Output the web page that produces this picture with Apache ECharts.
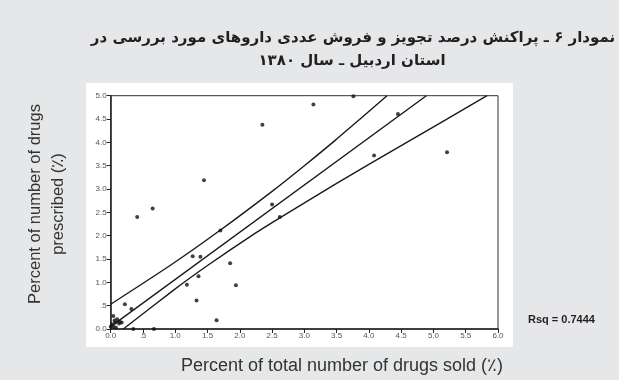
<!DOCTYPE html>
<html>
<head>
<meta charset="utf-8">
<script src="https://cdn.jsdelivr.net/npm/echarts@6/dist/echarts.min.js"></script>
<style>
  html, body { margin: 0; padding: 0; background: #e6e7e8; }
  #chart { width: 619px; height: 380px; }
</style>
</head>
<body>
<div id="chart"></div>
<script>
// Percent of total number of drugs sold (x) vs percent of number prescribed (y)
const soldPct = [5.21, 3.14, 3.76, 4.45, 4.08, 2.35, 2.50, 2.62, 1.445, 0.41, 0.65, 1.70,
  1.27, 1.39, 1.85, 1.36, 1.18, 1.94, 1.33, 1.64, 0.22, 0.32, 0.04, 0.10, 0.14, 0.07,
  0.17, 0.02, 0.13, 0.04, 0.00, 0.35, 0.67, 0.08, 0.06];
const prescribedPct = [3.79, 4.81, 4.99, 4.61, 3.72, 4.38, 2.67, 2.40, 3.19, 2.40, 2.58, 2.11,
  1.56, 1.55, 1.41, 1.13, 0.95, 0.94, 0.61, 0.19, 0.53, 0.43, 0.28, 0.21, 0.15, 0.14,
  0.14, 0.10, 0.12, 0.05, 0.05, 0.00, 0.00, 0.03, 0.18];

// Fitted line and 95% confidence band
const fitX = [0.00, 4.89];
const fitY = [0.05, 5.00];
const upperX = [0.00, 0.92, 1.69, 2.50, 3.00, 3.50, 4.28];
const upperY = [0.53, 1.36, 2.11, 2.95, 3.50, 4.07, 5.00];
const lowerX = [0.195, 1.00, 1.50, 2.16, 2.62, 3.50, 4.50, 5.83];
const lowerY = [0.00, 0.86, 1.36, 1.98, 2.38, 3.12, 3.93, 5.00];

const xTicks = [0, 0.5, 1, 1.5, 2, 2.5, 3, 3.5, 4, 4.5, 5, 5.5, 6];
const yTicks = [0, 0.5, 1, 1.5, 2, 2.5, 3, 3.5, 4, 4.5, 5];

const titleLines = [
  'نمودار ۶ ـ پراکنش درصد تجویز و فروش عددی داروهای مورد بررسی در',
  'استان اردبیل ـ سال ۱۳۸۰'
];
const xName = 'Percent of total number of drugs sold (٪)';
const yNameLines = ['Percent of number of drugs', 'prescribed (٪)'];
const rsqText = 'Rsq = 0.7444';

const zip = (xs, ys) => xs.map((x, i) => [x, ys[i]]);
const tickLabel = v => (v === 0.5 ? '.5' : v.toFixed(1));

const chart = echarts.init(document.getElementById('chart'), null, { renderer: 'canvas' });

const lineSeries = (xs, ys) => ({
  type: 'line',
  data: zip(xs, ys),
  smooth: xs.length > 2 ? 0.2 : false,
  symbol: 'none',
  lineStyle: { color: '#1a1a1a', width: 1.4 },
  silent: true,
  z: 3
});

const titleStyle = { fontFamily: 'DejaVu Sans', fontWeight: 'bold', fontSize: 15, color: '#231f20' };

chart.setOption({
  backgroundColor: '#e6e7e8',
  animation: false,
  title: [
    { text: titleLines[0], left: 348, top: 26, textAlign: 'center', textStyle: titleStyle },
    { text: titleLines[1], left: 347, top: 49, textAlign: 'center', textStyle: titleStyle }
  ],
  graphic: [
    {
      type: 'rect', shape: { x: 86, y: 83, width: 427, height: 264 },
      style: { fill: '#ffffff' }, z: -10, silent: true
    },
    {
      type: 'text', x: 528, y: 320,
      style: { text: rsqText, font: 'bold 11px "Liberation Sans", Arial', fill: '#231f20',
        textVerticalAlign: 'middle' }
    },
    {
      type: 'text', x: 342, y: 366,
      style: { text: xName, font: '18px "Liberation Sans", Arial', fill: '#333333',
        textAlign: 'center', textVerticalAlign: 'middle' }
    },
    {
      type: 'text', x: 35, y: 204, rotation: Math.PI / 2,
      style: { text: yNameLines[0], font: '16.5px "Liberation Sans", Arial', fill: '#333333',
        textAlign: 'center', textVerticalAlign: 'middle' }
    },
    {
      type: 'text', x: 58, y: 204, rotation: Math.PI / 2,
      style: { text: yNameLines[1], font: '16.5px "Liberation Sans", Arial', fill: '#333333',
        textAlign: 'center', textVerticalAlign: 'middle' }
    }
  ],
  grid: {
    left: 110.7, right: 121, top: 95.7, bottom: 51,
    show: true, borderColor: '#333333', borderWidth: 1, backgroundColor: '#ffffff'
  },
  xAxis: {
    type: 'value', min: 0, max: 6, interval: 0.5,
    axisLine: { lineStyle: { color: '#222', width: 1.5 } },
    axisTick: { show: true, length: 4, lineStyle: { color: '#222' } },
    axisLabel: {
      formatter: v => (xTicks.includes(v) ? tickLabel(v) : ''),
      fontFamily: 'Liberation Sans', fontSize: 8, color: '#555', margin: 3
    },
    splitLine: { show: false }
  },
  yAxis: {
    type: 'value', min: 0, max: 5, interval: 0.5,
    axisLine: { show: true, lineStyle: { color: '#222', width: 1.5 } },
    axisTick: { show: true, length: 4, lineStyle: { color: '#222' } },
    axisLabel: {
      formatter: v => (yTicks.includes(v) ? tickLabel(v) : ''),
      fontFamily: 'Liberation Sans', fontSize: 8, color: '#555', margin: 4
    },
    splitLine: { show: false }
  },
  series: [
    {
      type: 'scatter',
      data: zip(soldPct, prescribedPct),
      symbol: 'circle', symbolSize: 4,
      itemStyle: { color: '#111' },
      clip: false,
      z: 4
    },
    lineSeries(fitX, fitY),
    lineSeries(upperX, upperY),
    lineSeries(lowerX, lowerY)
  ]
});
</script>
</body>
</html>
